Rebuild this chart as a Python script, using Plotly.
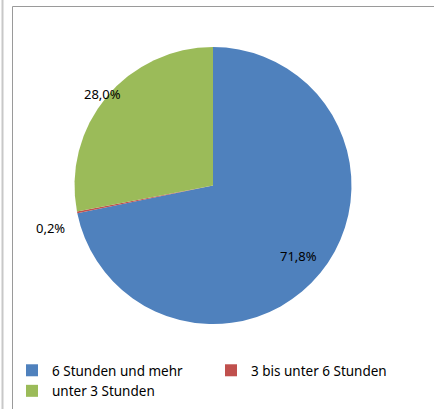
import math
import plotly.graph_objects as go

labels = ["6 Stunden und mehr", "3 bis unter 6 Stunden", "unter 3 Stunden"]
values = [71.8, 0.2, 28.0]
colors = ["#4F81BD", "#C0504D", "#9BBB59"]

# label placement style: distance from centre (in pie radii) and pixel nudge
label_radius = [0.80, 1.21, 1.04]
label_nudge = [(0, 0), (2, -10), (0, 0)]

W, H = 434, 409
dom_x = [74 / W, 352 / W]
dom_y = [1 - 324 / H, 1 - 47 / H]

fig = go.Figure(go.Pie(
    labels=labels,
    values=values,
    sort=False,
    direction="clockwise",
    rotation=0,
    marker=dict(colors=colors, line=dict(width=0)),
    textinfo="none",
    domain=dict(x=dom_x, y=dom_y),
    hoverinfo="skip",
))

# value labels placed at each slice's mid-angle
cx = (dom_x[0] + dom_x[1]) / 2 * W
cy = (dom_y[0] + dom_y[1]) / 2 * H
r = min((dom_x[1] - dom_x[0]) * W, (dom_y[1] - dom_y[0]) * H) / 2
total = sum(values)
cum = 0.0
annotations = []
for v, k, (nx, ny) in zip(values, label_radius, label_nudge):
    mid = (cum + v / 2) / total * 2 * math.pi
    cum += v
    px = cx + k * r * math.sin(mid)
    py = cy + k * r * math.cos(mid)
    annotations.append(dict(
        x=px / W, y=py / H, xref="paper", yref="paper",
        xshift=nx, yshift=ny,
        text=f"{v:.1f}%".replace(".", ","), showarrow=False,
        xanchor="center", yanchor="middle",
        font=dict(family="Noto Sans", size=13, color="#000000"),
    ))

fig.update_layout(
    width=W, height=H,
    margin=dict(l=0, r=0, t=0, b=0, pad=0, autoexpand=False),
    paper_bgcolor="white",
    showlegend=True,
    legend=dict(
        orientation="h",
        x=12 / W, xanchor="left",
        y=1 - 355 / H, yanchor="top",
        entrywidth=154, entrywidthmode="pixels",
        font=dict(family="Noto Sans", size=13.5, color="#000000"),
        bgcolor="rgba(0,0,0,0)",
    ),
    annotations=annotations,
    shapes=[
        dict(type="line", xref="paper", yref="paper",
             x0=2.5 / W, x1=2.5 / W, y0=0, y1=1,
             line=dict(color="#c8c8c8", width=2)),
        dict(type="rect", xref="paper", yref="paper",
             x0=12.5 / W, x1=1.05, y0=-0.05, y1=1 - 6.5 / H,
             line=dict(color="#9a9a9a", width=1)),
    ],
)

fig.write_html("out.html")
